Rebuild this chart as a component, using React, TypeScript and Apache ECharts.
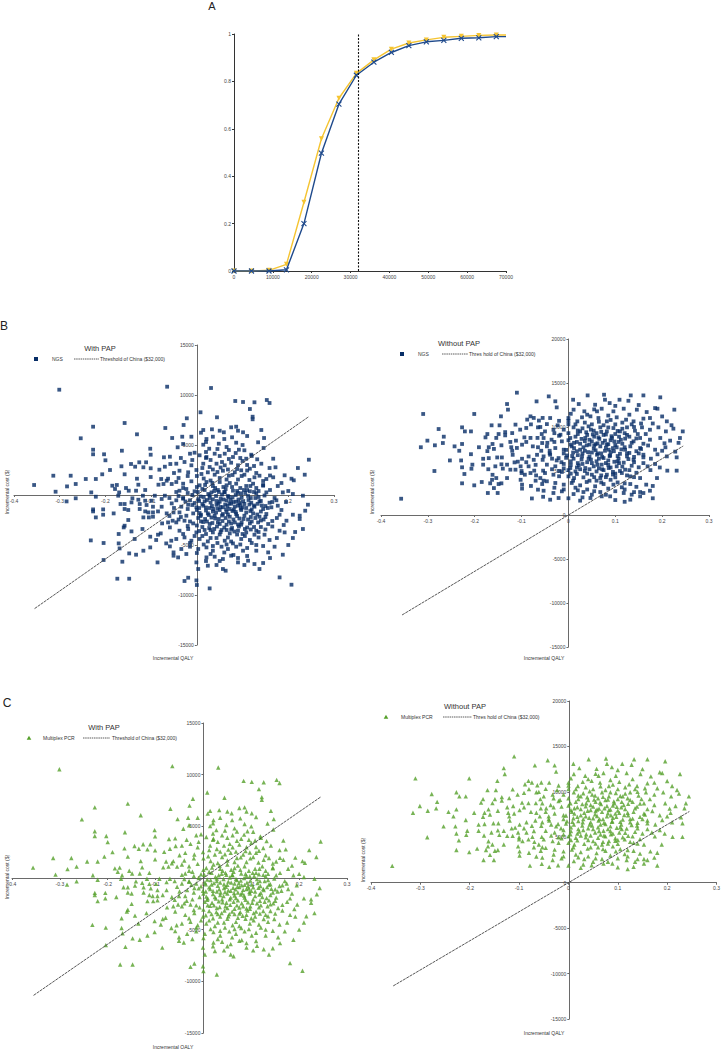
import React, { useEffect, useRef } from "react";
import * as echarts from "echarts";

// ---- Panel A: acceptability curves ----
const accWTP = [0, 4500, 9000, 13500, 18000, 22500, 27000, 31500, 36000, 40500, 45000, 49500, 54000, 58500, 63000, 67500, 70000];
const accYellow = [0, 0, 0.003, 0.028, 0.29, 0.558, 0.729, 0.834, 0.891, 0.936, 0.962, 0.975, 0.986, 0.99, 0.994, 0.996, 0.996];
const accBlue = [0, 0, 0, 0.005, 0.2, 0.497, 0.704, 0.826, 0.881, 0.922, 0.951, 0.967, 0.973, 0.982, 0.984, 0.989, 0.989];
const wtpThreshold = 32000;
const accXTicks = [0, 70000, 10000];

// ---- Threshold line extent (QALY) ----
const thresholdQALY = [-0.355, 0.245];

// ---- Scatter cloud, "With PAP" (incremental QALY, incremental cost $) ----
const cloudWith: number[][] = [
[-0.301,10530],[-0.065,10830],[-0.227,6830],[-0.158,7200],[-0.254,5670],[-0.131,6070],[-0.069,6700],[-0.054,5700],[-0.227,4530],[-0.227,4070],[-0.203,4070],[-0.164,4430],[-0.102,4630],[-0.101,4030],[-0.2,3470],[-0.144,3100],[-0.126,3270],[-0.111,3270],[-0.072,3770],[-0.059,3830],[-0.19,2500],[-0.165,2870],[-0.135,2830],[-0.117,2770],[-0.101,2670],[-0.082,2530],[-0.07,2830],[-0.058,3100],[-0.314,1930],[-0.276,1930],[-0.243,1600],[-0.221,1600],[-0.207,2070],[-0.158,2070],[-0.131,1630],[-0.101,1800],[-0.078,1600],[-0.063,1630],[-0.356,1000],[-0.284,860],[-0.265,1100],[-0.185,930],[-0.175,1000],[-0.179,600],[-0.155,700],[-0.128,1030],[-0.113,500],[-0.084,1030],[-0.073,1100],[-0.066,1430],[-0.055,1100],[-0.309,330],[-0.231,260],[-0.17,260],[-0.149,430],[-0.133,430],[-0.118,-70],[-0.092,-70],[-0.07,-70],[-0.265,-330],[-0.285,-640],[-0.221,-170],[-0.172,-70],[-0.141,-330],[-0.128,-470],[-0.113,-570],[-0.099,-570],[-0.077,-400],[-0.167,-900],[-0.158,-900],[-0.143,-740],[-0.125,-900],[-0.11,-1000],[-0.096,-1170],[-0.077,-1170],[-0.055,-840],[-0.227,-1440],[-0.227,-1640],[-0.205,-1440],[-0.182,-1840],[-0.158,-1400],[-0.15,-1500],[-0.125,-1400],[-0.113,-1640],[-0.106,-1740],[-0.096,-1740],[-0.085,-1640],[-0.066,-1840],[-0.051,-1740],[-0.221,-2240],[-0.205,-1970],[-0.15,-2500],[-0.117,-2240],[-0.105,-2240],[-0.096,-2170],[-0.076,-2840],[-0.063,-2740],[-0.053,-2570],[-0.158,-3070],[-0.16,-3240],[-0.143,-3640],[-0.119,-3400],[-0.085,-3970],[-0.079,-3840],[-0.059,-3240],[-0.171,-3900],[-0.102,-4170],[-0.232,-4540],[-0.204,-4800],[-0.171,-4840],[-0.136,-4400],[-0.089,-4500],[-0.067,-4840],[-0.056,-4570],[-0.169,-5340],[-0.117,-5570],[-0.102,-5240],[-0.059,-5140],[-0.051,-5740],[-0.148,-5840],[-0.133,-5970],[-0.163,-6670],[-0.204,-6500],[-0.086,-6740],[-0.051,-6070],[-0.174,-8370],[-0.148,-8370],
[0.031,10700],[0.084,9400],[0.101,9300],[0.126,9270],[0.153,9500],[0.159,9200],[0.116,8600],[0.122,7830],[0.122,7570],[0.008,8270],[0.044,7770],[-0.022,7670],[-0.029,7000],[0.014,6500],[0.033,6570],[0.05,6430],[0.059,6270],[0.075,6770],[0.086,6830],[0.09,6430],[0.101,6270],[0.141,6500],[0.147,5700],[0.009,6230],[-0.012,5830],[-0.032,5830],[0.021,5600],[0.035,5830],[0.077,5770],[0.134,5270],[-0.042,4770],[-0.03,5100],[0.014,5030],[0.027,4630],[0.048,5130],[0.065,4800],[0.086,5230],[0.092,4530],[0.104,4470],[0.119,4030],[0.146,4700],[-0.015,4130],[-0.005,4230],[0.006,3970],[0.021,3800],[0.039,4130],[0.05,3900],[0.061,4130],[0.079,3800],[0.108,3630],[0.132,3570],[0.141,3130],[0.167,3630],[0.245,3530],[-0.045,3130],[-0.027,3300],[-0.012,2970],[0.014,3130],[0.028,2800],[0.043,3130],[0.061,2970],[0.075,3230],[0.09,2970],[0.097,2470],[0.116,2630],[0.159,2700],[0.172,2770],[0.192,1970],[0.221,2700],[-0.038,2430],[-0.019,2270],[-0.001,2500],[0.01,2100],[0.024,2270],[0.039,2030],[0.057,2430],[0.07,1930],[0.083,2270],[0.104,2030],[0.126,1770],[0.137,1930],[0.152,1600],[0.167,1770],[0.207,1630],[0.212,1470],[0.236,2030],[-0.045,1300],[-0.03,1130],[-0.012,1370],[0.006,970],[0.021,1300],[0.035,900],[0.05,1300],[0.065,970],[0.086,1130],[0.108,900],[0.123,1130],[0.145,930],[0.177,900],[-0.038,430],[-0.023,600],[-0.005,370],[0.017,500],[0.032,260],[0.046,500],[0.061,260],[0.079,430],[0.097,170],[0.116,370],[0.13,170],[0.152,260],[0.188,260],[0.21,100],[0.232,-70],[-0.045,-530],[-0.03,-370],[-0.015,-530],[0.003,-430],[0.017,-630],[0.035,-430],[0.05,-670],[0.065,-530],[0.075,-870],[0.086,-670],[0.101,-630],[0.119,-770],[0.137,-630],[0.159,-770],[0.174,-530],[0.243,-970],[-0.034,-1170],[-0.019,-970],[-0.001,-1230],[0.014,-1070],[0.028,-1300],[0.043,-970],[0.057,-1230],[0.072,-1400],[0.09,-1070],[0.108,-1300],[0.126,-1170],[0.145,-1400],[0.163,-1230],[0.177,-1070],[0.237,-1570],[-0.038,-1740],[-0.023,-2070],[-0.008,-1840],[0.009,-1970],[0.024,-1840],[0.039,-2070],[0.057,-1900],[0.072,-2170],[0.086,-1900],[0.104,-2070],[0.123,-1840],[0.137,-2170],[0.152,-1900],[0.181,-1970],[0.21,-1970],[0.225,-2070],[-0.045,-2740],[-0.027,-2570],[-0.008,-2840],[0.009,-2640],[0.028,-2900],[0.046,-2740],[0.065,-2970],[0.083,-2740],[0.097,-2970],[0.116,-2840],[0.134,-2740],[0.156,-2900],[0.196,-2570],[0.225,-2400],[0.232,-3400],[-0.038,-3570],[-0.019,-3400],[-0.001,-3740],[0.017,-3500],[0.035,-3740],[0.054,-3500],[0.072,-3840],[0.09,-3570],[0.108,-3740],[0.13,-3570],[0.148,-3970],[0.181,-3570],[0.192,-3740],[-0.045,-4400],[-0.027,-4240],[-0.012,-4570],[0.006,-4400],[0.024,-4640],[0.043,-4300],[0.061,-4570],[0.079,-4840],[0.097,-4400],[0.116,-4500],[0.126,-3970],[0.159,-4500],[0.21,-4300],[-0.034,-5400],[-0.015,-5170],[0.003,-5400],[0.021,-5240],[0.035,-5570],[0.054,-5170],[0.068,-5400],[0.086,-5170],[0.101,-5570],[0.13,-5570],[0.156,-5740],[0.17,-5170],[0.188,-5970],[-0.041,-6240],[-0.023,-5900],[-0.001,-6740],[0.021,-6240],[0.039,-6170],[0.057,-6400],[0.075,-6070],[0.09,-6740],[0.112,-6570],[0.126,-6900],[0.137,-7400],[0.024,-7070],[0.043,-7000],[0.057,-7400],[0.063,-7570],[0.003,-7400],[0.104,-7000],[-0.027,-8600],[-0.019,-8270],[-0.001,-8540],[0.0,-9000],[0.028,-9340],[0.181,-8240],[0.207,-8970],
[0.0,800],[0.018,1000],[0.04,700],[0.058,800],[0.072,1200],[0.095,700],[0.11,500],[0.13,700],[-0.01,0],[0.008,-150],[0.025,100],[0.042,-100],[0.055,50],[0.07,-200],[0.085,0],[0.098,-250],[0.112,-100],[0.128,-300],[0.148,-50],[-0.005,-800],[0.012,-900],[0.03,-750],[0.047,-850],[0.062,-950],[0.08,-700],[0.095,-1000],[0.115,-950],[0.133,-880],[0.0,-1500],[0.02,-1550],[0.035,-1650],[0.05,-1500],[0.065,-1700],[0.078,-1600],[0.097,-1500],[0.117,-1600],[0.14,-1650],[0.003,-2300],[0.018,-2400],[0.032,-2250],[0.048,-2400],[0.063,-2300],[0.08,-2450],[0.093,-2350],[0.112,-2450],[0.128,-2300],[0.146,-2450],[0.012,-3200],[0.027,-3300],[0.044,-3150],[0.06,-3250],[0.077,-3300],[0.092,-3150],[0.11,-3250],[0.14,-3200],[-0.02,-1400],[-0.035,-2200],[-0.02,-3100],[-0.03,-300],[-0.02,200],[0.165,-2600],[0.17,-300],[0.16,500],
[-0.04,-100],[-0.025,-650],[-0.01,-1000],[0.005,-1300],[0.015,-200],[0.022,-500],[0.033,-1100],[0.038,400],[0.045,-1350],[0.052,-350],[0.06,300],[0.067,-1100],[0.074,-500],[0.081,-1450],[0.088,400],[0.093,-800],[0.1,-1250],[0.106,200],[0.113,-500],[0.12,-1450],[0.125,300],[0.135,-200],[0.142,-1050],[0.155,-1300],[0.165,-700],[-0.04,-2450],[-0.015,-2650],[0.0,-3050],[0.008,-2100],[0.022,-2650],[0.03,-3500],[0.04,-2350],[0.05,-2900],[0.055,-2050],[0.07,-2650],[0.075,-3450],[0.088,-2100],[0.09,-2950],[0.102,-2400],[0.105,-3400],[0.12,-2650],[0.125,-3200],[0.14,-2550],[0.15,-3450],[0.165,-3150],[0.175,-2300],[0.0,1900],[0.015,1650],[0.03,1450],[0.045,2300],[0.05,1700],[0.065,1550],[0.078,2000],[0.09,1550],[0.098,1900],[0.115,1500],[0.13,2200],[0.145,1400],[0.16,1950],[0.012,2700],[0.035,2550],[0.052,2750],[0.068,2550],[0.088,2600],[0.11,2450],[0.125,2900],[-0.005,-4100],[0.012,-4100],[0.03,-4300],[0.05,-3950],[0.068,-4250],[0.088,-3950],[0.105,-4100],[0.135,-4250],[0.015,-4950],[0.045,-4800],[0.075,-4650],[0.095,-4950],[0.12,-4800],[0.145,-5100],[0.0,-5800],[0.03,-5900],[0.06,-5750],[0.08,-6000],[0.11,-6100],[-0.06,-300],[-0.045,300],[-0.05,-1300],[-0.06,-2100],[-0.03,700],[-0.04,1700],[-0.02,1900],[-0.01,3500],[0.03,3500],[0.07,3600],[0.1,3400],[0.12,3900],[0.07,4500],[0.02,4300],[0.185,-1500],[0.195,-700],[0.2,400],[0.185,1200],[0.19,-3000],[0.175,-4300],[0.2,-5000],[0.215,-3700],[0.16,-6300],[0.145,-6800],
[0.005,-600],[0.02,-1250],[0.028,-300],[0.036,-1400],[0.043,-600],[0.052,-1200],[0.058,-450],[0.064,-1450],[0.071,-850],[0.078,-250],[0.083,-1150],[0.091,-450],[0.096,-1350],[0.104,-900],[0.118,-300],[0.125,-1050],[0.14,-600],[0.15,-1100],[0.006,-1800],[0.014,-2700],[0.026,-2000],[0.034,-2800],[0.042,-1750],[0.056,-2600],[0.068,-1950],[0.075,-2850],[0.085,-1700],[0.098,-2750],[0.108,-1750],[0.118,-2200],[0.132,-1950],[0.15,-2200],[0.002,300],[0.012,600],[0.028,-50],[0.034,1200],[0.048,300],[0.063,600],[0.068,-100],[0.077,800],[0.09,200],[0.103,500],[0.117,900],[0.135,400],[0.145,1000],[0.005,-3600],[0.02,-3900],[0.038,-3400],[0.052,-3700],[0.065,-3500],[0.082,-3650],[0.1,-3900],[0.118,-3450],[0.135,-3700],[-0.03,-3900],[-0.015,-4800],[0.035,-5100],[0.065,-4950],[0.11,-5300],[0.13,-5000],[0.09,-6300],[0.05,-6600],[0.02,-6600],[-0.05,2200],[-0.035,3700],[0.02,3700],[0.055,3300],[0.095,3700],[0.11,3000],[0.085,4200],[0.045,4600],[0.02,5300],[0.06,5600],[0.1,5000],[0.11,5900]
];

// ---- Scatter cloud, "Without PAP" ----
const cloudWithout: number[][] = [
[-0.357,1850],[-0.31,11480],[-0.201,11480],[-0.11,13900],[-0.131,12610],[-0.129,11970],[-0.068,12910],[-0.277,9770],[-0.266,8900],[-0.301,8450],[-0.315,7700],[-0.285,7920],[-0.268,8180],[-0.243,7800],[-0.227,9960],[-0.221,9500],[-0.208,9500],[-0.227,8070],[-0.233,7300],[-0.253,6200],[-0.229,6200],[-0.286,5000],[-0.227,5420],[-0.222,4660],[-0.208,6910],[-0.205,5720],[-0.207,5260],[-0.227,3600],[-0.201,3370],[-0.185,3750],[-0.182,5720],[-0.173,9200],[-0.177,8820],[-0.191,7700],[-0.173,7260],[-0.164,10190],[-0.147,10190],[-0.144,11210],[-0.149,9200],[-0.154,8760],[-0.135,9420],[-0.135,9050],[-0.162,8070],[-0.17,7700],[-0.159,7510],[-0.143,7920],[-0.124,8300],[-0.122,7700],[-0.112,8450],[-0.113,10270],[-0.103,9700],[-0.09,9890],[-0.088,10840],[-0.081,11210],[-0.074,11030],[-0.063,10730],[-0.065,9960],[-0.055,11030],[-0.094,8820],[-0.081,8760],[-0.076,7800],[-0.066,8760],[-0.057,9200],[-0.056,8180],[-0.099,7990],[-0.11,7620],[-0.119,6840],[-0.099,6390],[-0.085,6650],[-0.074,6270],[-0.067,6840],[-0.058,7300],[-0.055,6270],[-0.115,5980],[-0.108,6060],[-0.142,6540],[-0.152,6540],[-0.17,6460],[-0.182,6390],[-0.171,5200],[-0.156,5530],[-0.143,5760],[-0.14,5270],[-0.162,4570],[-0.154,4200],[-0.163,4000],[-0.159,3060],[-0.167,3600],[-0.149,3520],[-0.143,3600],[-0.172,2500],[-0.151,2500],[-0.131,4200],[-0.113,5150],[-0.102,5530],[-0.1,4770],[-0.093,4580],[-0.085,5530],[-0.081,4770],[-0.073,5040],[-0.069,4500],[-0.102,4000],[-0.099,3450],[-0.099,3000],[-0.07,3900],[-0.065,2880],[-0.056,3520],[-0.078,1880],[-0.054,2070],[-0.054,5040],[-0.053,3900],[-0.124,5150],[-0.131,5720],[-0.12,9310],
[-0.042,13480],[-0.025,12230],[-0.039,11020],[-0.028,12920],[0.01,13100],[0.041,13590],[0.076,13670],[0.078,13100],[0.088,12720],[0.109,13100],[0.133,13590],[0.128,12980],[0.16,13590],[0.196,13370],[0.19,12080],[0.226,11970],[0.022,12610],[0.057,12530],[0.034,11780],[0.047,11210],[0.061,11780],[0.071,12080],[0.096,11780],[0.118,12080],[0.146,11970],[0.167,11700],[0.185,12150],[0.011,11970],[0.0,11020],[0.019,10640],[0.029,11100],[0.064,11020],[0.082,10640],[0.103,11100],[0.123,10830],[0.139,10640],[0.16,10950],[0.174,11020],[0.21,10640],[-0.046,10330],[-0.023,10190],[-0.05,9500],[-0.032,9690],[-0.017,9120],[0.011,9960],[0.025,9500],[0.043,10070],[0.054,9580],[0.068,9960],[0.082,9500],[0.096,9880],[0.11,9500],[0.125,9960],[0.142,9580],[0.157,9960],[0.174,9690],[0.192,9960],[0.208,9500],[0.224,9810],[0.244,9500],[-0.053,8750],[-0.036,8560],[-0.014,8370],[0.004,8750],[0.018,8300],[0.036,8750],[0.05,8370],[0.064,8820],[0.078,8450],[0.093,8750],[0.107,8300],[0.121,8680],[0.139,8370],[0.153,8750],[0.174,8560],[0.196,8750],[0.217,8450],[0.238,8750],[-0.046,7800],[-0.028,7610],[-0.01,7420],[0.007,7800],[0.025,7420],[0.039,7920],[0.054,7540],[0.068,7800],[0.086,7420],[0.103,7690],[0.121,7420],[0.132,7800],[0.153,7610],[0.185,7420],[0.207,7690],[-0.053,6660],[-0.039,6850],[-0.021,6470],[-0.003,6770],[0.011,6400],[0.029,6660],[0.043,6400],[0.061,6850],[0.075,6470],[0.089,6770],[0.107,6400],[0.125,6660],[0.139,6280],[0.16,6550],[0.176,6400],[0.21,6660],[0.231,6550],[-0.046,5720],[-0.028,5530],[-0.01,5800],[0.004,5340],[0.022,5640],[0.036,5340],[0.054,5530],[0.071,5720],[0.086,5340],[0.103,5530],[0.121,5150],[0.15,5420],[0.169,5530],[0.185,5800],[0.211,5040],[0.231,5040],[-0.05,4770],[-0.032,4580],[-0.014,4890],[0.0,4390],[0.018,4660],[0.032,4280],[0.05,4580],[0.068,4200],[0.082,4580],[0.1,4280],[0.114,4770],[0.132,4390],[0.153,4200],[0.189,4200],[-0.046,3830],[-0.028,3640],[-0.01,3450],[0.007,3640],[0.025,3370],[0.039,3750],[0.057,3260],[0.075,3520],[0.096,3450],[0.114,3150],[0.132,3520],[0.166,3450],[-0.053,2760],[-0.032,2500],[-0.014,2690],[0.011,2380],[0.032,2610],[0.05,2310],[0.068,2610],[0.089,2120],[0.118,2500],[0.135,2310],[0.153,2610],[0.174,2760],[-0.039,1740],[-0.021,1930],[0.025,1630],[0.047,1930],[0.071,2120],[0.132,1740],[0.153,2120],
[0.0,9300],[0.02,9200],[0.04,9100],[0.06,9300],[0.08,9150],[0.1,9200],[0.12,9300],[0.005,8000],[0.025,8100],[0.045,8000],[0.062,8150],[0.085,8050],[0.1,7950],[0.115,8100],[-0.01,7000],[0.01,7100],[0.03,7000],[0.05,7100],[0.07,7000],[0.09,7150],[0.11,6950],[0.13,7050],[-0.015,6000],[0.005,6100],[0.02,5900],[0.04,6000],[0.06,6100],[0.08,5900],[0.098,6050],[0.118,5950],[-0.02,5000],[0.0,5100],[0.015,4950],[0.035,5000],[0.06,4950],[0.075,5100],[0.095,4900],[0.11,5000],[-0.035,6400],[-0.04,7300],[-0.03,8300],[-0.02,9000],[0.14,6000],[0.15,7000],[0.16,8100],
[-0.045,8200],[-0.03,9300],[-0.01,9700],[0.0,10300],[0.015,8900],[0.03,9850],[0.035,8400],[0.048,9700],[0.055,8900],[0.07,9450],[0.073,8200],[0.085,9950],[0.09,8500],[0.1,10300],[0.108,8900],[0.115,9800],[0.13,8900],[0.135,10300],[0.148,9200],[0.165,9200],[-0.04,7000],[-0.025,6200],[-0.005,6500],[0.012,7600],[0.02,6800],[0.035,7300],[0.045,6650],[0.055,7900],[0.065,6400],[0.078,7300],[0.085,6200],[0.095,7600],[0.105,6700],[0.12,7700],[0.128,6350],[0.145,7250],[0.16,6850],[0.17,7900],[0.19,6900],[0.2,7300],[-0.035,5200],[-0.02,4400],[0.005,5700],[0.012,4200],[0.025,5200],[0.04,4700],[0.05,5900],[0.065,5300],[0.07,4500],[0.085,5700],[0.095,4600],[0.108,5900],[0.125,4500],[0.135,5600],[0.145,4800],[0.16,5900],[0.175,5100],[0.195,5400],[-0.03,3100],[-0.01,2900],[0.015,3100],[0.04,2900],[0.06,3900],[0.085,3000],[0.105,3700],[0.12,2900],[0.145,3200],[0.16,2500],[0.18,3300],[0.0,1900],[0.03,2000],[0.1,1700],[0.12,1500],[0.18,1900],[-0.02,10700],[0.005,11500],[0.04,11400],[0.055,12000],[0.085,11300],[0.1,12400],[0.13,11400],[0.15,12500],[0.18,10400],[0.2,11200],[0.22,10200],[0.205,8150],[0.228,7200],[0.235,8200],[-0.06,10000],[-0.065,7700],[-0.07,5700],[-0.06,4200],[-0.09,6000],[-0.09,8300],[-0.1,5000],[-0.08,3300],[-0.08,10300],[-0.12,7300],
[0.0,8500],[0.012,8200],[0.02,9600],[0.028,8650],[0.038,9400],[0.045,8550],[0.052,9150],[0.058,8050],[0.066,8650],[0.075,9100],[0.082,8000],[0.092,8950],[0.098,8350],[0.105,9550],[0.112,8550],[0.125,9100],[0.135,8200],[0.145,8700],[-0.005,7400],[0.008,6700],[0.018,7250],[0.028,6300],[0.032,7700],[0.042,7150],[0.048,6300],[0.058,7350],[0.063,7000],[0.072,6600],[0.08,7650],[0.088,6700],[0.097,7250],[0.105,6100],[0.113,7450],[0.125,7000],[0.14,6600],[0.155,7500],[-0.01,5300],[0.005,4700],[0.018,5400],[0.03,5800],[0.045,5200],[0.055,4300],[0.062,5700],[0.072,5200],[0.08,4300],[0.09,5400],[0.1,4700],[0.115,5500],[0.13,5100],[0.14,4300],[0.0,10700],[0.015,10300],[0.035,10500],[0.05,10300],[0.065,10600],[0.075,10200],[0.09,10800],[0.115,10500],[0.14,10000],[0.155,10400],[0.01,3900],[0.045,3900],[0.07,3700],[0.09,4000],[0.12,3600],[0.02,2800],[0.055,2700],[0.08,2300],[0.1,2700],[0.14,2600]
];

const FONT = "Liberation Sans, Arial, sans-serif";
const NAVY = "#072d66";
const GREEN = "#55a02a";
const YELLOW = "#f5c431";
const BLUE = "#1f4a8c";
const AXIS = "#6a6a6a";
const LABEL = "#444";
const X_MIN = -0.4, X_MAX = 0.3, Y_MIN = -15000;

type Panel = {
  grid: { left: number; top: number; width: number; height: number };
  yMax: number;
  cloud: number[][];
  symbol: string;
  color: string;
  name: string;
  title: string; tx: number; ty: number;
  ly: number; mx: number; nx: number; d1: number; d2: number; thx: number; thText: string;
  xnx: number; xny: number; ynx: number; yny: number;
};

const panels: Panel[] = [
  { grid: { left: 14, top: 345, width: 320, height: 300 }, yMax: 15000, cloud: cloudWith, symbol: "rect", color: NAVY, name: "NGS",
    title: "With PAP", tx: 100, ty: 348, ly: 359, mx: 36, nx: 52, d1: 74, d2: 99, thx: 100, thText: "Threshold of China ($32,000)",
    xnx: 173, xny: 658, ynx: 7, yny: 492 },
  { grid: { left: 381, top: 339, width: 328, height: 308 }, yMax: 20000, cloud: cloudWithout, symbol: "rect", color: NAVY, name: "NGS",
    title: "Without PAP", tx: 459, ty: 343, ly: 354, mx: 402, nx: 418, d1: 442, d2: 468, thx: 469, thText: "Thres hold of China ($32,000)",
    xnx: 544, xny: 658, ynx: 372, yny: 492 },
  { grid: { left: 12, top: 723, width: 335, height: 310 }, yMax: 15000, cloud: cloudWith, symbol: "triangle", color: GREEN, name: "Multiplex PCR",
    title: "With PAP", tx: 104, ty: 727, ly: 738, mx: 29, nx: 43, d1: 83, d2: 110, thx: 112, thText: "Threshold of China ($32,000)",
    xnx: 173, xny: 1047, ynx: 7, yny: 877 },
  { grid: { left: 371, top: 701, width: 347, height: 318 }, yMax: 20000, cloud: cloudWithout, symbol: "triangle", color: GREEN, name: "Multiplex PCR",
    title: "Without PAP", tx: 465, ty: 706, ly: 717, mx: 386, nx: 401, d1: 443, d2: 472, thx: 473, thText: "Thres hold of China ($32,000)",
    xnx: 544, xny: 1033, ynx: 363, yny: 860 },
];

function buildOption() {
  const grids: any[] = [{ left: 234, top: 34, width: 272, height: 237 }];
  const xAxes: any[] = [{
    gridIndex: 0, type: "value", min: accXTicks[0], max: accXTicks[1], interval: accXTicks[2],
    axisLine: { lineStyle: { color: "#333", width: 1 } },
    axisTick: { length: 2, lineStyle: { color: "#333" } },
    axisLabel: { fontSize: 5, color: LABEL, margin: 3, fontFamily: FONT, formatter: (v: number) => String(v) },
    splitLine: { show: false },
  }];
  const yAxes: any[] = [{
    gridIndex: 0, type: "value", min: 0, max: 1, interval: 0.2,
    axisLine: { show: true, lineStyle: { color: "#333", width: 1 } },
    axisTick: { show: true, length: 2, lineStyle: { color: "#333" } },
    axisLabel: { fontSize: 5, color: LABEL, margin: 3, fontFamily: FONT, formatter: (v: number) => String(Math.round(v * 10) / 10) },
    splitLine: { show: false },
  }];
  const series: any[] = [
    {
      type: "line", xAxisIndex: 0, yAxisIndex: 0, name: "yellow",
      data: accWTP.map((x, i) => (i === accWTP.length - 1 ? { value: [x, accYellow[i]], symbolSize: 0 } : [x, accYellow[i]])),
      symbol: "triangle", symbolRotate: 180, symbolSize: 5,
      lineStyle: { color: YELLOW, width: 1.4 }, itemStyle: { color: YELLOW }, z: 2,
    },
    {
      type: "line", xAxisIndex: 0, yAxisIndex: 0, name: "blue",
      data: accWTP.map((x, i) => (i === accWTP.length - 1 ? { value: [x, accBlue[i]], symbolSize: 0 } : [x, accBlue[i]])),
      symbol: "path://M0,0L10,10M10,0L0,10", symbolSize: 5,
      lineStyle: { color: BLUE, width: 1.4 }, itemStyle: { color: BLUE, borderColor: BLUE, borderWidth: 1.1 }, z: 3,
      markLine: {
        silent: true, symbol: "none", label: { show: false },
        lineStyle: { type: [2, 1.5], color: "#111", width: 1.1 },
        data: [{ xAxis: wtpThreshold }],
      },
    },
  ];

  const graphic: any[] = [
    { type: "text", x: 212, y: 6, style: { text: "A", fontSize: 11, fontFamily: FONT, fill: "#222", align: "center", verticalAlign: "middle" } },
    { type: "text", x: 4, y: 326, style: { text: "B", fontSize: 12, fontFamily: FONT, fill: "#222", align: "center", verticalAlign: "middle" } },
    { type: "text", x: 7, y: 703, style: { text: "C", fontSize: 12, fontFamily: FONT, fill: "#222", align: "center", verticalAlign: "middle" } },
  ];

  panels.forEach((p, idx) => {
    const gi = idx + 1;
    grids.push(p.grid);
    // place axes through the origin (offset from grid edge, derived from the axis ranges)
    const xOff = -p.grid.height * (0 - Y_MIN) / (p.yMax - Y_MIN);
    const yOff = -p.grid.width * (0 - X_MIN) / (X_MAX - X_MIN);
    xAxes.push({
      gridIndex: gi, type: "value", min: X_MIN, max: X_MAX, interval: 0.1, position: "bottom", offset: xOff,
      axisLine: { onZero: false, lineStyle: { color: AXIS, width: 1 } },
      axisTick: { length: 2, lineStyle: { color: AXIS } },
      axisLabel: { fontSize: 5, color: LABEL, margin: 3, fontFamily: FONT, formatter: (v: number) => String(Math.round(v * 10) / 10) },
      splitLine: { show: false },
    });
    yAxes.push({
      gridIndex: gi, type: "value", min: Y_MIN, max: p.yMax, interval: 5000, position: "left", offset: yOff,
      axisLine: { show: true, onZero: false, lineStyle: { color: AXIS, width: 1 } },
      axisTick: { show: true, length: 2, lineStyle: { color: AXIS } },
      axisLabel: { fontSize: 5, color: LABEL, margin: 3, fontFamily: FONT, formatter: (v: number) => String(v) },
      splitLine: { show: false },
    });
    series.push({
      type: "scatter", name: p.name, xAxisIndex: gi, yAxisIndex: gi,
      data: p.cloud, symbol: p.symbol, symbolSize: p.symbol === "rect" ? 3.8 : 4.4,
      itemStyle: { color: p.color }, z: 2,
    });
    series.push({
      type: "line", name: "threshold", xAxisIndex: gi, yAxisIndex: gi,
      data: thresholdQALY.map((q) => [q, q * wtpThreshold]), symbol: "none",
      lineStyle: { color: "#444", width: 0.9, type: [3, 0.8] }, z: 3,
    });

    const tStyle = (text: string, size: number, align = "left") => ({ text, fontSize: size, fontFamily: FONT, fill: "#333", align, verticalAlign: "middle" });
    graphic.push({ type: "text", x: p.tx, y: p.ty, style: tStyle(p.title, 7.5, "center") });
    if (p.symbol === "rect") {
      graphic.push({ type: "rect", shape: { x: p.mx - 2, y: p.ly - 2, width: 4, height: 4 }, style: { fill: p.color } });
    } else {
      graphic.push({ type: "polygon", shape: { points: [[p.mx, p.ly - 2.2], [p.mx - 2.3, p.ly + 1.8], [p.mx + 2.3, p.ly + 1.8]] }, style: { fill: p.color } });
    }
    graphic.push({ type: "text", x: p.nx, y: p.ly, style: tStyle(p.name, 5) });
    graphic.push({ type: "line", shape: { x1: p.d1, y1: p.ly, x2: p.d2, y2: p.ly }, style: { stroke: "#333", lineWidth: 0.8, lineDash: [1.5, 0.7] } });
    graphic.push({ type: "text", x: p.thx, y: p.ly, style: tStyle(p.thText, 5) });
    graphic.push({ type: "text", x: p.xnx, y: p.xny, style: tStyle("Incremental QALY", 5, "center") });
    graphic.push({ type: "text", x: p.ynx, y: p.yny, rotation: Math.PI / 2, style: tStyle("Incremental cost ($)", 5, "center") });
  });

  return { animation: false, backgroundColor: "#fff", grid: grids, xAxis: xAxes, yAxis: yAxes, series, graphic };
}

export default function App() {
  const ref = useRef<HTMLDivElement>(null);
  useEffect(() => {
    if (!ref.current) return;
    const chart = echarts.init(ref.current, undefined, { renderer: "svg" });
    chart.setOption(buildOption() as any);
    return () => chart.dispose();
  }, []);
  return <div ref={ref} style={{ position: "absolute", left: 0, top: 0, width: 723, height: 1049, background: "#fff" }} />;
}
